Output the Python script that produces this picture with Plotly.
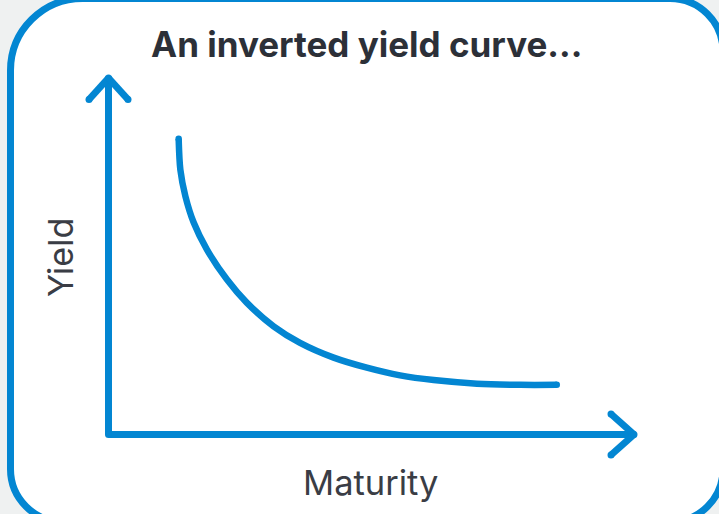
import plotly.graph_objects as go

# ---- data (conceptual units) ----
MATURITY = [1.0, 1.04, 1.16, 1.36, 1.67, 2.15, 2.62, 3.26, 3.89, 4.69, 5.48, 6.27, 7.07, 8.10, 9.13, 10.0]
YIELD = [5.00, 4.48, 4.03, 3.58, 3.13, 2.62, 2.23, 1.83, 1.55, 1.30, 1.13, 1.00, 0.92, 0.86, 0.84, 0.84]
TITLE = "An inverted yield curve..."
X_LABEL = "Maturity"
Y_LABEL = "Yield"

W, H = 719, 514
BLUE = "#0386d2"
DARK = "#2c3038"
LABEL = "#3a3d45"
BG = "#eff1f1"


def px(x):
    return x / W


def py(y):
    return 1 - y / H


def P(x, y):
    return f"{px(x):.5f},{py(y):.5f}"


# plot region for the data axes (pixels)
X0, X1 = 108.5, 637.0
Y0, Y1 = 434.5, 75.0

fig = go.Figure()
fig.add_trace(go.Scatter(
    x=MATURITY, y=YIELD, mode="lines",
    line=dict(color=BLUE, width=6.5, shape="spline", smoothing=0.8),
    hoverinfo="skip", showlegend=False,
))
fig.add_trace(go.Scatter(
    x=[MATURITY[0], MATURITY[-1]], y=[YIELD[0], YIELD[-1]], mode="markers",
    marker=dict(color=BLUE, size=6.5, line=dict(width=0)),
    hoverinfo="skip", showlegend=False,
))

shapes = []

# rounded outer box (pixel geometry converted to paper)
L, T, R, B = 10.5, -1.5, 723.0, 522.0
rtl, r = 72.0, 53.0
k = 0.5523
path = (
    f"M {P(L + rtl, T)} L {P(R - r, T)} "
    f"C {P(R - r + k * r, T)} {P(R, T + r - k * r)} {P(R, T + r)} "
    f"L {P(R, B - r)} "
    f"C {P(R, B - r + k * r)} {P(R - r + k * r, B)} {P(R - r, B)} "
    f"L {P(L + r, B)} "
    f"C {P(L + r - k * r, B)} {P(L, B - r + k * r)} {P(L, B - r)} "
    f"L {P(L, T + rtl)} "
    f"C {P(L, T + rtl - k * rtl)} {P(L + rtl - k * rtl, T)} {P(L + rtl, T)} Z"
)
shapes.append(dict(type="path", xref="paper", yref="paper", path=path,
                   fillcolor="white", line=dict(color=BLUE, width=7), layer="below"))

# axes with chevron arrows
LW = 7
segs = [
    ((X0, Y1 + 3), (X0, Y0)),
    ((X0, Y0), (X1 - 3, Y0)),
    ((89, 99.5), (X0, Y1 + 3)),
    ((128, 99.5), (X0, Y1 + 3)),
    ((611, 414), (X1 - 3, Y0)),
    ((611, 455), (X1 - 3, Y0)),
]
for (xa, ya), (xb, yb) in segs:
    shapes.append(dict(type="line", xref="paper", yref="paper",
                       x0=px(xa), y0=py(ya), x1=px(xb), y1=py(yb),
                       line=dict(color=BLUE, width=LW)))
for (xc, yc) in [(X0, Y1 + 3), (X0, Y0), (X1 - 3, Y0), (89, 99.5), (128, 99.5), (611, 414), (611, 455)]:
    rr = LW / 2
    shapes.append(dict(type="circle", xref="paper", yref="paper",
                       x0=px(xc - rr), x1=px(xc + rr), y0=py(yc + rr), y1=py(yc - rr),
                       fillcolor=BLUE, line=dict(width=0)))

annotations = [
    dict(text=f"<b>{TITLE}</b>", x=px(366), y=py(44), xref="paper", yref="paper",
         showarrow=False, xanchor="center", yanchor="middle",
         font=dict(family="Inter", size=35, color=DARK)),
    dict(text=X_LABEL, x=px(370), y=py(482), xref="paper", yref="paper",
         showarrow=False, xanchor="center", yanchor="middle",
         font=dict(family="Inter", size=34.5, color=LABEL)),
    dict(text=Y_LABEL, x=px(60), y=py(258), xref="paper", yref="paper",
         showarrow=False, xanchor="center", yanchor="middle", textangle=-90,
         font=dict(family="Inter", size=34, color=LABEL)),
]

# axis ranges so data sit in the pixel region above
xr = [-0.67, 11.91]
yr = [0.0, 6.08]

fig.update_layout(
    width=W, height=H,
    margin=dict(l=0, r=0, t=0, b=0),
    paper_bgcolor=BG, plot_bgcolor="rgba(0,0,0,0)",
    xaxis=dict(domain=[px(X0), px(X1)], range=xr, visible=False, fixedrange=True),
    yaxis=dict(domain=[py(Y0), py(Y1)], range=yr, visible=False, fixedrange=True),
    shapes=shapes, annotations=annotations,
    showlegend=False,
)

fig.write_html(
    "out.html",
    config={"displayModeBar": False},
    post_script="document.body.style.margin='0';document.body.style.background='%s';" % BG,
)
